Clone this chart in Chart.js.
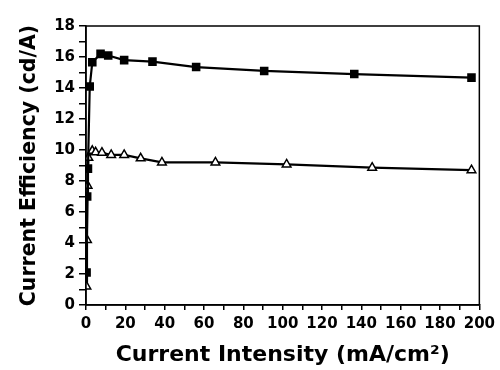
<!DOCTYPE html>
<html>
<head>
<meta charset="utf-8">
<script src="https://cdn.jsdelivr.net/npm/chart.js@4/dist/chart.umd.min.js"></script>
<style>
  body { margin: 0; background: #fff; }
  #wrap { width: 500px; height: 370px; }
</style>
</head>
<body>
<div id="wrap"><canvas id="chart" width="500" height="370"></canvas></div>
<script>
// square series (filled)
const squareX = [0.3, 0.6, 1.0, 1.9, 3.2, 7.4, 11.3, 19.4, 33.8, 56, 90.6, 136.4, 196];
const squareY = [2.1, 7.0, 8.8, 14.1, 15.66, 16.2, 16.1, 15.8, 15.7, 15.35, 15.1, 14.9, 14.67];

// triangle series (open)
const triX = [0.2, 0.5, 0.8, 1.2, 3.2, 4.9, 8.1, 12.8, 19.4, 27.8, 38.6, 65.8, 102, 145.5, 196];
const triY = [1.2, 4.2, 7.7, 9.5, 9.95, 9.85, 9.83, 9.68, 9.68, 9.46, 9.2, 9.2, 9.07, 8.86, 8.7];

const xTicks = [0, 20, 40, 60, 80, 100, 120, 140, 160, 180, 200];
const yTicks = [0, 2, 4, 6, 8, 10, 12, 14, 16, 18];

const toPoints = (xs, ys) => xs.map((x, i) => ({ x: x, y: ys[i] }));

const boxPlugin = {
  id: "box",
  afterDraw: (chart) => {
    const { ctx, chartArea } = chart;
    ctx.save();
    ctx.strokeStyle = "#000";
    ctx.lineWidth = 1.5;
    ctx.strokeRect(chartArea.left, chartArea.top, chartArea.right - chartArea.left, chartArea.bottom - chartArea.top);
    ctx.restore();
  },
};

const tickFont = { family: "DejaVu Sans", size: 15, weight: "bold" };
const xTitleFont = { family: "DejaVu Sans", size: 22, weight: "bold" };
const yTitleFont = { family: "DejaVu Sans", size: 20.5, weight: "bold" };

new Chart(document.getElementById("chart"), {
  type: "scatter",
  data: {
    datasets: [
      {
        data: toPoints(squareX, squareY),
        showLine: true,
        borderColor: "#000",
        borderWidth: 2.2,
        backgroundColor: "#000",
        pointStyle: "rect",
        pointRadius: 4.5,
      },
      {
        data: toPoints(triX, triY),
        showLine: true,
        borderColor: "#000",
        borderWidth: 2.2,
        pointBorderWidth: 1.5,
        backgroundColor: "#fff",
        pointStyle: "triangle",
        pointRadius: 5,
      },
    ],
  },
  options: {
    responsive: false,
    animation: false,
    events: [],
    layout: { padding: { top: 26, right: 19, left: 0, bottom: 0 } },
    plugins: { legend: { display: false }, tooltip: { enabled: false } },
    scales: {
      x: {
        type: "linear",
        min: 0,
        max: 200,
        afterFit: (scale) => { scale.height = 65; },
        afterBuildTicks: (scale) => {
          const t = [];
          for (let v = 0; v <= 200; v += 10) t.push({ value: v });
          scale.ticks = t;
        },
        ticks: {
          color: "#000",
          font: tickFont,
          padding: 5,
          maxRotation: 0,
          autoSkip: false,
          callback: (v) => (xTicks.includes(v) ? v : ""),
        },
        grid: { drawOnChartArea: false, drawTicks: true, tickLength: 5, color: "#000", lineWidth: 1.5 },
        border: { display: true, color: "#000", width: 1.5 },
        title: { display: true, text: "Current Intensity (mA/cm²)", color: "#000", font: xTitleFont, padding: { top: 0, bottom: 2 } },
      },
      y: {
        min: 0,
        max: 18,
        afterFit: (scale) => { scale.width = 86; },
        afterBuildTicks: (scale) => {
          const t = [];
          for (let v = 0; v <= 18; v += 1) t.push({ value: v });
          scale.ticks = t;
        },
        ticks: {
          color: "#000",
          font: tickFont,
          padding: 4,
          autoSkip: false,
          callback: (v) => (yTicks.includes(v) ? v : ""),
        },
        grid: { drawOnChartArea: false, drawTicks: true, tickLength: 7, color: "#000", lineWidth: 1.5 },
        border: { display: true, color: "#000", width: 1.5 },
        title: { display: true, text: "Current Efficiency (cd/A)", color: "#000", font: yTitleFont, padding: { top: 17, bottom: 0 } },
      },
    },
  },
  plugins: [boxPlugin],
});
</script>
</body>
</html>
